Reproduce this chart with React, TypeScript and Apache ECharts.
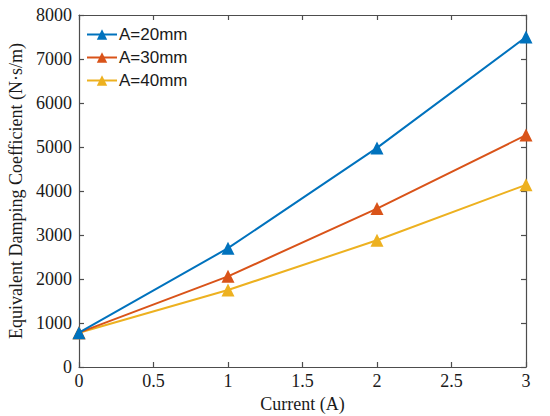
import React, { useEffect, useRef } from "react";
import * as echarts from "echarts";

const currents = [0, 1, 2, 3];
const seriesNames = ["A=20mm", "A=30mm", "A=40mm"];
const a20 = [780, 2700, 4980, 7500];
const a30 = [780, 2060, 3600, 5270];
const a40 = [780, 1750, 2880, 4140];
const colors = ["#0072BD", "#D95319", "#EDB120"];

export default function App() {
  const ref = useRef<HTMLDivElement>(null);
  useEffect(() => {
    if (!ref.current) return;
    const chart = echarts.init(ref.current, undefined, { renderer: "svg" });
    const values = [a20, a30, a40];
    const mkLine = () => ({ show: true, onZero: false, lineStyle: { color: "#4d4d4d", width: 1.2 } });
    const mkTick = () => ({ show: true, inside: true, length: 5, lineStyle: { color: "#4d4d4d", width: 1.2 } });
    const labelStyle = { fontFamily: "Liberation Serif", fontSize: 18, color: "#1a1a1a" };
    const fmt = (v: number) => String(v);
    chart.setOption({
      animation: false,
      backgroundColor: "#ffffff",
      color: colors,
      grid: { left: 79, right: 24, top: 15, bottom: 49, containLabel: false, outerBoundsMode: "none" },
      legend: {
        orient: "vertical",
        left: 86,
        top: 25,
        itemWidth: 30,
        itemHeight: 13,
        itemGap: 4,
        padding: 0,
        textStyle: { fontFamily: "Liberation Sans", fontSize: 17, color: "#1a1a1a", lineHeight: 19, padding: [0, 0, 0, -3] },
        data: seriesNames,
      },
      xAxis: [
        {
          type: "value",
          position: "bottom",
          min: 0,
          max: 3,
          interval: 0.5,
          name: "Current (A)",
          nameLocation: "middle",
          nameGap: 23,
          nameTextStyle: { ...labelStyle },
          axisLine: mkLine(),
          axisTick: mkTick(),
          splitLine: { show: false },
          axisLabel: { ...labelStyle, margin: 5, formatter: fmt },
        },
        {
          type: "value",
          position: "top",
          min: 0,
          max: 3,
          interval: 0.5,
          axisLine: mkLine(),
          axisTick: mkTick(),
          splitLine: { show: false },
          axisLabel: { show: false },
        },
      ],
      yAxis: [
        {
          type: "value",
          position: "left",
          min: 0,
          max: 8000,
          interval: 1000,
          name: "Equivalent Damping Coefficient (N·s/m)",
          nameLocation: "middle",
          nameGap: 52,
          nameTextStyle: { ...labelStyle },
          axisLine: mkLine(),
          axisTick: mkTick(),
          splitLine: { show: false },
          axisLabel: { ...labelStyle, margin: 7, formatter: fmt },
        },
        {
          type: "value",
          position: "right",
          min: 0,
          max: 8000,
          interval: 1000,
          axisLine: mkLine(),
          axisTick: mkTick(),
          splitLine: { show: false },
          axisLabel: { show: false },
        },
      ],
      series: seriesNames.map((name, i) => ({
        name,
        type: "line",
        xAxisIndex: 0,
        yAxisIndex: 0,
        data: currents.map((c, j) => [c, values[i][j]]),
        symbol: "triangle",
        symbolSize: 13,
        lineStyle: { width: 2, color: colors[i] },
        itemStyle: { color: colors[i] },
        z: 3 - i,
      })),
    });
    return () => chart.dispose();
  }, []);
  return <div ref={ref} style={{ width: 550, height: 416, position: "absolute", left: 0, top: 0 }} />;
}
